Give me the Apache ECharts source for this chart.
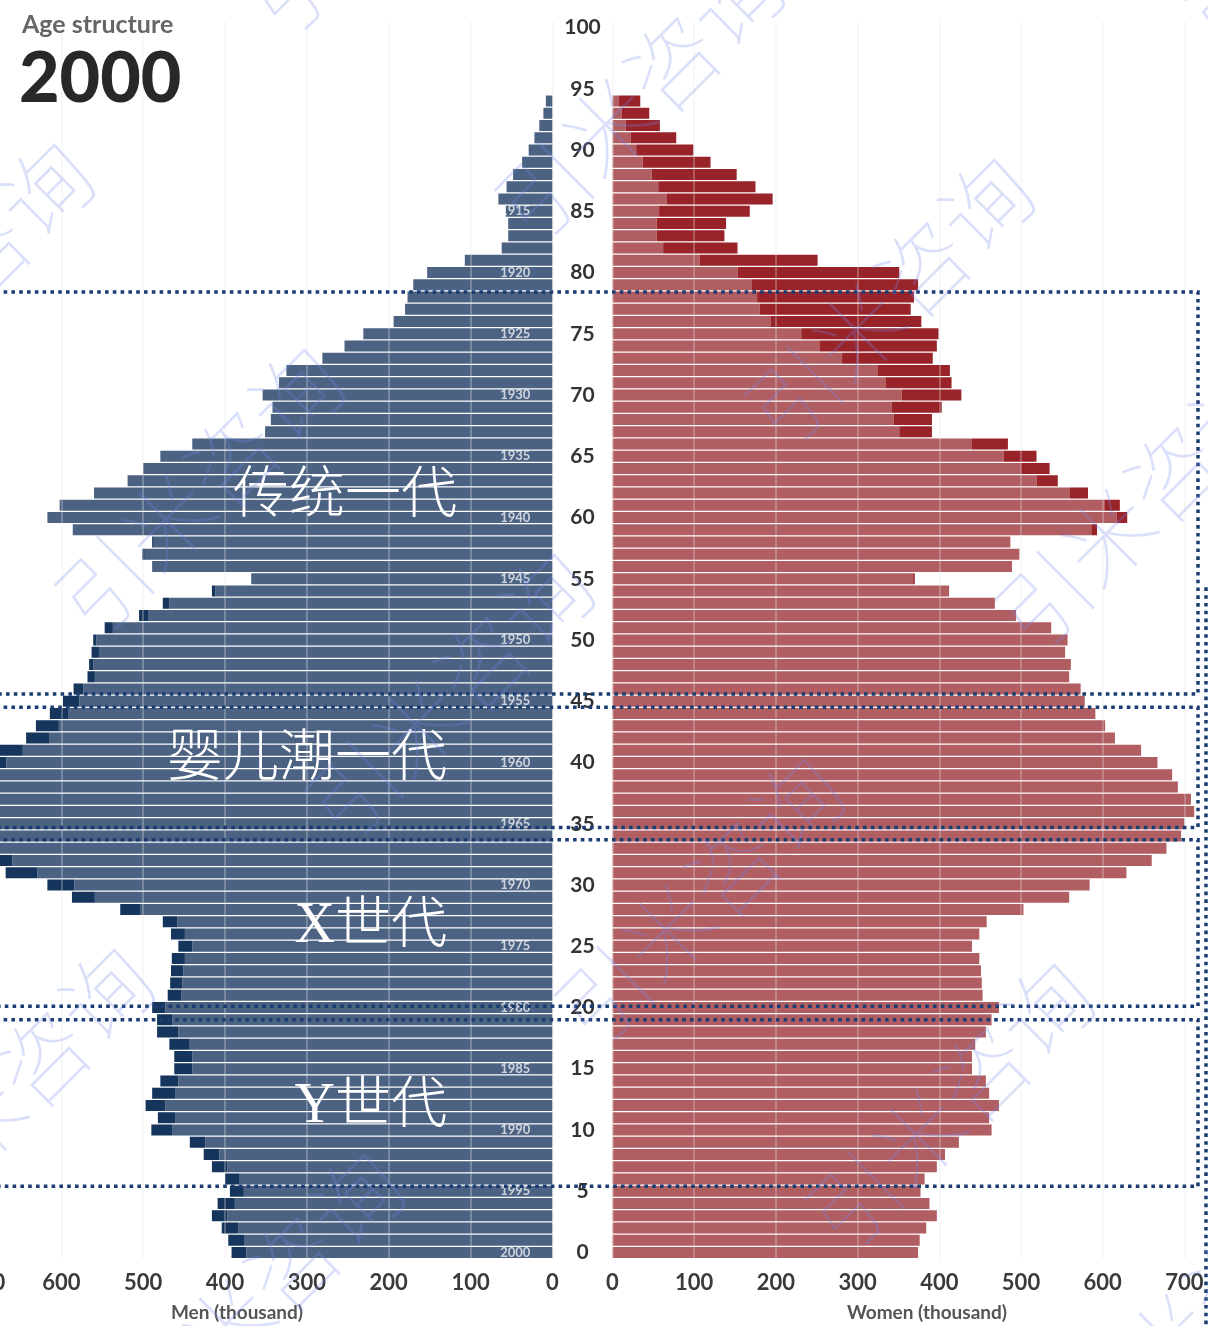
<!DOCTYPE html>
<html>
<head>
<meta charset="utf-8">
<script src="https://cdn.jsdelivr.net/npm/echarts@6/dist/echarts.min.js"></script>
<style>
  html, body { margin: 0; padding: 0; background: #fff; }
  #chart { width: 1208px; height: 1326px; }
</style>
</head>
<body>
<div id="chart"></div>
<script>
  // 年龄 0..100（95 岁以上无数据）
  const ages = Array.from({length: 101}, (_, i) => String(i))

  // 男性人口（千人），按年龄 0..94
  const men = [
    392, 396, 404, 416, 409, 394, 400, 416, 426, 443,
    490, 482, 497, 489, 479, 462, 462, 468, 483, 483,
    489, 470, 467, 466, 465, 457, 466, 476, 528, 587,
    617, 668, 690, 710, 725, 735, 745, 730, 720, 712,
    695, 680, 643, 631, 614, 598, 585, 568, 566, 563,
    561, 547, 505, 476, 416, 368, 489, 501, 489, 586,
    617, 602, 560, 519, 500, 479, 440, 351, 344, 342,
    354, 334, 325, 281, 254, 231, 194, 180, 177, 170,
    153, 107, 62, 54, 54, 57, 66, 56, 48, 37,
    29, 22, 16, 11, 8
  ]

  // 女性人口（千人），按年龄 0..94
  const women = [
    374, 376, 384, 397, 388, 377, 382, 397, 407, 424,
    464, 461, 473, 461, 457, 440, 440, 444, 457, 464,
    473, 453, 452, 451, 449, 440, 449, 458, 503, 559,
    584, 629, 660, 678, 696, 700, 712, 708, 692, 685,
    667, 647, 615, 603, 591, 578, 573, 559, 561, 554,
    557, 537, 494, 468, 412, 370, 489, 498, 487, 593,
    630, 621, 582, 545, 535, 519, 484, 391, 391, 403,
    427, 415, 413, 392, 397, 399, 378, 365, 369, 374,
    351, 251, 153, 137, 139, 168, 196, 175, 152, 120,
    99, 78, 58, 45, 34
  ]

  // 出生年份标签（年龄 0,5,...,85）
  const birthYears = ['2000', '1995', '1990', '1985', '1980', '1975', '1970', '1965', '1960',
    '1955', '1950', '1945', '1940', '1935', '1930', '1925', '1920', '1915']

  // 世代标注：[名称, 上沿年龄, 下沿年龄]
  const generations = [
    ['传统一代', 78.4, 45.6],
    ['婴儿潮一代', 44.5, 34.7],
    ['X世代', 33.7, 20.1],
    ['Y世代', 19.0, 5.4]
  ]

  const menBase = [], menExtra = [], womenBase = [], womenExtra = []
  ages.forEach((a, i) => {
    let m = men[i], w = women[i]
    if (m === undefined) {
      menBase.push(0); menExtra.push(0); womenBase.push(0); womenExtra.push(0)
      return
    }
    let common = Math.min(m, w)
    menBase.push(common)
    menExtra.push(Math.max(m - w, 0))
    womenBase.push(common)
    womenExtra.push(Math.max(w - m, 0))
  })

  const gridTop = 21.4
  const gridHeight = 1237.2
  const labelFont = 'Lato, "Noto Sans", sans-serif'

  let chart = echarts.init(document.getElementById('chart'), null, {renderer: 'canvas'})

  function valueAxis(idx, inverse) {
    return {
      gridIndex: idx,
      type: 'value',
      min: 0,
      max: 800,
      interval: 100,
      inverse: inverse,
      z: 3,
      axisLine: {show: false},
      axisTick: {show: false},
      axisLabel: {
        margin: 13,
        fontSize: 22,
        fontWeight: 'bold',
        fontFamily: labelFont,
        color: '#3a3a3a',
        formatter: v => (v === 800 ? '' : String(v))
      },
      splitLine: {
        show: true,
        lineStyle: {color: 'rgba(228,230,234,0.38)', width: 1.5}
      }
    }
  }

  function barSeries(name, xi, stack, data, color) {
    return {
      name: name,
      type: 'bar',
      xAxisIndex: xi,
      yAxisIndex: xi,
      stack: stack,
      data: data,
      barCategoryGap: '10%',
      silent: true,
      itemStyle: {color: color}
    }
  }

  chart.setOption({
    animation: false,
    backgroundColor: '#fff',
    grid: [
      {left: -102.4, top: gridTop, width: 654.8, height: gridHeight, outerBoundsMode: 'none'},
      {left: 612.5, top: gridTop, width: 653.6, height: gridHeight, outerBoundsMode: 'none'}
    ],
    xAxis: [valueAxis(0, true), valueAxis(1, false)],
    yAxis: [
      {
        gridIndex: 0,
        type: 'category',
        data: ages,
        position: 'right',
        z: 4,
        axisLine: {show: false},
        axisTick: {show: false},
        axisLabel: {
          inside: true,
          interval: 4,
          margin: 22,
          fontSize: 13,
          fontWeight: 'bold',
          fontFamily: labelFont,
          color: 'rgba(255,255,255,0.72)',
          formatter: (v, i) => birthYears[i / 5] || ''
        }
      },
      {
        gridIndex: 1,
        type: 'category',
        data: ages,
        position: 'left',
        axisLine: {show: false},
        axisTick: {show: false},
        axisLabel: {
          interval: 4,
          margin: 30,
          align: 'center',
          fontSize: 21,
          fontWeight: 'bold',
          fontFamily: labelFont,
          color: '#333'
        }
      }
    ],
    series: [
      barSeries('男性', 0, 'm', menBase, '#4b6282'),
      barSeries('男性多出', 0, 'm', menExtra, '#15355c'),
      barSeries('女性', 1, 'w', womenBase, '#b15e62'),
      barSeries('女性多出', 1, 'w', womenExtra, '#982328')
    ]
  })

  // 年龄 -> 像素（支持小数年龄）
  let y0 = chart.convertToPixel({yAxisIndex: 1}, 0)
  let y1 = chart.convertToPixel({yAxisIndex: 1}, 1)
  let yOf = a => y0 + (y1 - y0) * a

  let graphics = []

  // 水印
  let wmCenters = []
  for (let i = -2; i <= 3; i++) {
    for (let j = -1; j <= 5; j++) {
      wmCenters.push([640 + j * 250 - i * 440, 95 + j * 205 + i * 395])
    }
  }
  wmCenters.forEach(c => {
    if (c[0] < -250 || c[0] > 1450 || c[1] < -250 || c[1] > 1580) return
    graphics.push({
      type: 'text',
      x: c[0],
      y: c[1],
      rotation: Math.PI / 4,
      z: 120,
      silent: true,
      style: {
        text: '引米咨询',
        fontSize: 90,
        fontWeight: 100,
        fontFamily: '"Noto Sans CJK SC"',
        fill: 'rgba(120,138,236,0.27)',
        align: 'center',
        verticalAlign: 'middle'
      }
    })
  })

  // 世代虚线框
  generations.forEach(g => {
    let top = yOf(g[1]), bottom = yOf(g[2])
    graphics.push({
      type: 'rect',
      z: 110,
      silent: true,
      shape: {x: -12, y: top, width: 1210, height: bottom - top},
      style: {fill: null, stroke: '#1b3c70', lineWidth: 3.5, lineDash: [3.6, 4.2]}
    })
  })
  graphics.push({
    type: 'line',
    z: 110,
    silent: true,
    shape: {x1: 1206, y1: yOf(54.3), x2: 1206, y2: 1340},
    style: {stroke: '#1b3c70', lineWidth: 3.5, lineDash: [3.6, 4.2]}
  })

  // 世代名称
  let genLabelY = [497, 760, 927, 1107]
  let genLabelX = [457, 447, 447, 447]
  generations.forEach((g, i) => {
    graphics.push({
      type: 'text',
      x: genLabelX[i],
      y: genLabelY[i],
      z: 100,
      silent: true,
      style: {
        text: g[0],
        fontSize: 56,
        fontWeight: 300,
        fontFamily: '"Liberation Serif", "Noto Sans CJK SC"',
        fill: '#fff',
        align: 'right',
        verticalAlign: 'middle'
      }
    })
  })

  // 标题与坐标轴名称
  graphics.push(
    {
      type: 'text', left: 22, top: 12, z: 100,
      style: {text: 'Age structure', fontSize: 25, fontWeight: 'bold', fontFamily: labelFont, fill: '#666'}
    },
    {
      type: 'text', left: 19, top: 44, z: 100,
      style: {text: '2000', fontSize: 70, fontWeight: 900, fontFamily: labelFont, fill: '#282828'}
    },
    {
      type: 'text', x: 237, y: 1313, z: 100,
      style: {text: 'Men (thousand)', fontSize: 19, fontWeight: 'bold', fontFamily: labelFont, fill: '#555', align: 'center', verticalAlign: 'middle'}
    },
    {
      type: 'text', x: 927, y: 1313, z: 100,
      style: {text: 'Women (thousand)', fontSize: 19, fontWeight: 'bold', fontFamily: labelFont, fill: '#555', align: 'center', verticalAlign: 'middle'}
    },
    {
      // 左轴 700 刻度仅露出末尾的 "0"
      type: 'text', x: -14, y: 1283, z: 100,
      style: {text: '700', fontSize: 22, fontWeight: 'bold', fontFamily: labelFont, fill: '#3a3a3a', align: 'center', verticalAlign: 'middle'}
    }
  )

  chart.setOption({graphic: graphics})
</script>
</body>
</html>
